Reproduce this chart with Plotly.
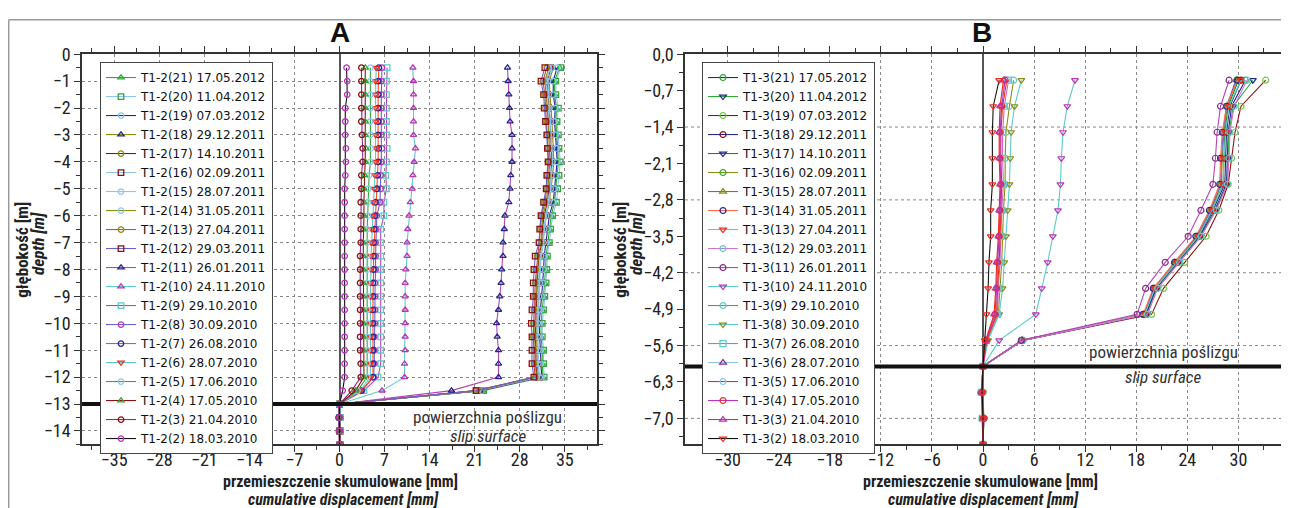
import plotly.graph_objects as go

# the page puts the figure 8 px in from the top-left corner, so screen
# positions measured on the reference are shifted by OFF
OFF = 8
W, H = 1281, 500
SLIP_A = -13.0
SLIP_B = -6.0

# depths of the readings [m]
DEPTH_A = [-0.5, -1.0, -1.5, -2.0, -2.5, -3.0, -3.5, -4.0, -4.5, -5.0, -5.5, -6.0, -6.5, -7.0, -7.5,
           -8.0, -8.5, -9.0, -9.5, -10.0, -10.5, -11.0, -11.5, -12.0, -12.5, -13.0, -13.5, -14.0, -14.5]
DEPTH_B = [-0.5, -1.0, -1.5, -2.0, -2.5, -3.0, -3.5, -4.0, -4.5, -5.0, -5.5, -6.0, -6.5, -7.0, -7.5]

# ---- inclinometer T1-2, cumulative displacement [mm]
A21 = [34.2, 33.4, 33.4, 33.7, 33.6, 33.8, 33.9, 34.0, 33.8, 33.6, 33.4, 32.9, 32.6, 32.4, 32.1, 32.0, 31.9, 31.7, 31.5, 31.3, 31.3, 31.5, 31.5, 31.6, 22.2, 0.0, 0.1, 0.0, 0.1]
A20 = [34.4, 33.6, 33.6, 34.0, 33.8, 34.0, 34.1, 34.3, 34.1, 33.9, 33.7, 33.1, 32.8, 32.6, 32.3, 32.2, 32.1, 31.9, 31.7, 31.5, 31.5, 31.7, 31.7, 31.8, 22.4, 0.0, 0.1, 0.1, 0.0]
A19 = [33.8, 33.2, 33.2, 33.5, 33.4, 33.6, 33.7, 33.8, 33.6, 33.4, 33.2, 32.6, 32.3, 32.1, 31.8, 31.7, 31.6, 31.4, 31.2, 31.0, 31.1, 31.2, 31.2, 31.4, 22.0, 0.0, 0.0, 0.1, 0.0]
A18 = [33.2, 32.6, 32.7, 32.9, 33.0, 33.1, 33.2, 33.3, 33.1, 32.9, 32.6, 32.1, 31.8, 31.6, 31.3, 31.1, 31.0, 30.9, 30.7, 30.6, 30.6, 30.7, 30.7, 30.9, 21.8, 0.0, -0.1, 0.0, 0.0]
A17 = [32.9, 32.3, 32.4, 32.6, 32.7, 32.8, 32.9, 33.0, 32.8, 32.6, 32.3, 31.8, 31.5, 31.4, 31.0, 30.8, 30.7, 30.6, 30.5, 30.4, 30.4, 30.5, 30.5, 30.7, 21.6, 0.0, 0.0, -0.1, 0.0]
A16 = [32.7, 32.1, 32.3, 32.4, 32.6, 32.7, 32.7, 32.8, 32.7, 32.7, 32.4, 32.0, 31.7, 31.7, 31.2, 31.0, 30.9, 30.9, 30.7, 30.7, 30.7, 30.8, 30.8, 31.0, 21.3, 0.0, 0.0, 0.0, 0.1]
A15 = [33.0, 32.4, 32.5, 32.6, 32.8, 32.9, 33.0, 33.1, 32.9, 32.8, 32.5, 32.1, 31.8, 31.7, 31.3, 31.2, 31.1, 31.0, 30.9, 30.8, 30.8, 30.9, 30.9, 31.1, 21.5, 0.0, 0.1, 0.0, 0.0]
A14 = [32.5, 31.9, 32.1, 32.3, 32.4, 32.5, 32.6, 32.7, 32.5, 32.4, 32.1, 31.6, 31.4, 31.3, 30.9, 30.7, 30.6, 30.5, 30.4, 30.3, 30.3, 30.4, 30.4, 30.6, 21.4, 0.0, 0.0, 0.0, 0.0]
A13 = [32.2, 31.6, 31.9, 32.0, 32.2, 32.3, 32.4, 32.5, 32.3, 32.2, 31.9, 31.4, 31.2, 31.0, 30.7, 30.5, 30.4, 30.3, 30.2, 30.1, 30.1, 30.2, 30.2, 30.4, 21.2, 0.0, -0.1, 0.0, 0.0]
A12 = [31.9, 31.3, 31.7, 31.8, 32.0, 32.2, 32.3, 32.4, 32.2, 32.1, 31.7, 31.3, 31.1, 31.0, 30.4, 30.2, 30.1, 30.1, 29.9, 29.8, 29.9, 29.9, 29.9, 30.2, 21.2, 0.0, 0.0, 0.1, 0.0]
A11 = [26.1, 26.2, 26.3, 26.4, 26.5, 26.8, 26.8, 26.8, 26.6, 26.5, 26.3, 25.7, 25.6, 25.4, 25.4, 25.2, 25.1, 24.9, 24.7, 24.4, 24.5, 24.7, 24.7, 24.7, 17.4, 0.0, 0.0, 0.0, 0.0]
A10 = [11.4, 11.5, 11.5, 11.5, 11.5, 11.5, 11.8, 11.6, 11.4, 11.3, 11.0, 10.8, 10.6, 10.5, 10.5, 10.3, 10.2, 10.2, 10.2, 10.2, 10.2, 10.2, 10.1, 10.1, 6.6, 0.0, 0.1, 0.0, 0.0]
A9 = [7.4, 7.3, 7.3, 7.3, 7.3, 7.3, 7.4, 7.3, 7.2, 7.3, 6.9, 6.9, 6.4, 6.4, 6.4, 6.4, 6.4, 6.4, 6.4, 6.4, 6.4, 6.4, 6.4, 6.0, 3.8, 0.0, 0.0, 0.1, 0.0]
A8 = [6.6, 6.5, 6.5, 6.5, 6.5, 6.5, 6.6, 6.5, 6.4, 6.4, 6.3, 5.8, 5.7, 5.6, 5.6, 5.6, 5.5, 5.5, 5.5, 5.5, 5.4, 5.4, 5.4, 5.3, 3.5, 0.0, -0.1, 0.0, 0.0]
A7 = [6.1, 6.0, 6.0, 6.0, 6.0, 6.0, 6.1, 6.0, 5.9, 5.8, 5.6, 5.5, 5.4, 5.3, 5.3, 5.3, 5.2, 5.2, 5.2, 5.2, 5.2, 5.2, 5.2, 5.2, 3.4, 0.0, 0.0, 0.0, 0.1]
A6 = [5.7, 5.6, 5.6, 5.6, 5.6, 5.6, 5.7, 5.6, 5.5, 5.4, 5.2, 5.1, 5.0, 4.9, 4.9, 4.9, 4.8, 4.8, 4.8, 4.8, 4.8, 4.8, 4.8, 4.8, 3.2, 0.0, 0.1, 0.0, 0.0]
A5 = [4.8, 4.8, 4.8, 4.8, 4.8, 4.8, 4.9, 4.8, 4.6, 4.5, 4.4, 4.4, 4.3, 4.3, 4.3, 4.3, 4.3, 4.3, 4.3, 4.3, 4.3, 4.3, 4.3, 4.3, 2.8, 0.0, 0.0, 0.0, 0.0]
A4 = [4.0, 4.0, 4.0, 4.0, 4.0, 4.0, 4.1, 4.0, 3.9, 3.8, 3.8, 3.8, 3.7, 3.7, 3.7, 3.7, 3.7, 3.7, 3.7, 3.7, 3.7, 3.7, 3.7, 3.8, 2.5, 0.0, 0.0, 0.1, 0.0]
A3 = [3.4, 3.4, 3.4, 3.4, 3.4, 3.5, 3.6, 3.6, 3.4, 3.4, 3.3, 3.3, 3.3, 3.3, 3.2, 3.2, 3.2, 3.2, 3.2, 3.2, 3.2, 3.2, 3.3, 3.3, 1.9, 0.0, -0.1, 0.0, 0.0]
A2 = [1.1, 1.2, 1.2, 0.9, 0.9, 0.9, 1.0, 1.0, 0.9, 0.8, 0.8, 0.8, 0.8, 0.8, 0.8, 0.8, 0.8, 0.8, 0.8, 0.8, 0.8, 0.8, 0.8, 0.8, 0.5, 0.0, 0.0, 0.0, 0.0]

# ---- inclinometer T1-3, cumulative displacement [mm]
B21 = [30.8, 29.2, 28.8, 28.7, 28.6, 27.2, 25.5, 22.9, 20.4, 19.2, 4.6, 0.0, -0.1, 0.0, 0.0]
B20 = [31.7, 29.4, 28.9, 28.8, 28.7, 27.3, 25.6, 23.0, 20.5, 19.3, 4.7, 0.0, -0.1, 0.0, 0.0]
B19 = [33.2, 30.3, 29.6, 29.2, 28.8, 27.7, 26.2, 23.7, 21.2, 19.8, 4.7, 0.0, -0.1, 0.1, 0.0]
B18 = [30.3, 29.0, 28.6, 28.5, 28.4, 27.0, 25.4, 22.8, 20.3, 19.1, 4.6, 0.0, -0.2, 0.0, 0.0]
B17 = [30.0, 28.8, 28.4, 28.3, 28.2, 26.9, 25.3, 22.7, 20.2, 19.0, 4.6, 0.0, -0.1, 0.0, 0.0]
B16 = [29.8, 28.7, 28.3, 28.1, 28.0, 26.8, 25.2, 22.6, 20.1, 18.9, 4.6, 0.0, 0.0, 0.1, 0.0]
B15 = [29.7, 28.6, 28.2, 28.0, 27.9, 26.7, 25.1, 22.5, 20.1, 18.9, 4.5, 0.0, -0.1, 0.0, 0.0]
B14 = [29.9, 28.6, 28.1, 27.9, 27.8, 26.6, 25.0, 22.5, 20.0, 18.8, 4.6, 0.0, -0.2, 0.0, 0.0]
B13 = [30.3, 28.9, 28.5, 28.3, 28.2, 26.9, 25.3, 22.8, 20.2, 19.0, 4.6, 0.0, -0.1, 0.0, 0.0]
B12 = [31.0, 29.5, 29.0, 28.9, 28.7, 27.4, 25.6, 23.1, 20.5, 19.3, 4.7, 0.0, -0.2, -0.1, 0.0]
B11 = [28.9, 27.9, 27.5, 27.3, 27.0, 25.6, 24.1, 21.4, 19.1, 18.1, 4.5, 0.0, -0.2, 0.0, 0.0]
B10 = [10.8, 9.9, 9.4, 9.2, 9.1, 8.8, 8.2, 7.6, 6.9, 6.2, 1.9, 0.0, -0.1, 0.1, 0.0]
B9 = [3.6, 3.1, 2.7, 2.6, 2.6, 2.4, 2.3, 2.2, 2.0, 1.8, 0.5, 0.0, -0.1, 0.0, 0.0]
B8 = [4.5, 3.7, 3.3, 3.2, 3.1, 2.9, 2.7, 2.5, 2.3, 1.9, 0.6, 0.0, 0.0, 0.0, 0.0]
B7 = [3.0, 2.5, 2.3, 2.3, 2.4, 2.2, 2.1, 2.0, 1.8, 1.7, 0.4, 0.0, -0.2, -0.1, 0.0]
B6 = [2.5, 2.1, 2.0, 2.0, 2.1, 2.0, 1.9, 1.8, 1.6, 1.5, 0.3, 0.0, -0.1, 0.0, 0.0]
B5 = [2.8, 2.3, 2.1, 2.1, 2.2, 2.1, 2.0, 1.9, 1.7, 1.6, 0.4, 0.0, 0.0, 0.0, 0.0]
B4 = [2.6, 2.2, 2.0, 2.0, 2.1, 2.0, 1.9, 1.7, 1.6, 1.4, 0.4, 0.0, -0.1, 0.1, 0.0]
B3 = [2.4, 2.0, 1.9, 1.9, 2.0, 1.9, 1.8, 1.6, 1.5, 1.3, 0.3, 0.0, -0.2, 0.0, 0.0]
B2 = [1.9, 1.2, 1.1, 1.1, 1.1, 0.9, 0.9, 0.7, 0.6, 0.4, 0.2, 0.0, -0.1, 0.0, 0.0]

DATES = ["17.05.2012", "11.04.2012", "07.03.2012", "29.12.2011", "14.10.2011", "02.09.2011",
         "28.07.2011", "31.05.2011", "27.04.2011", "29.03.2011", "26.01.2011", "24.11.2010",
         "29.10.2010", "30.09.2010", "26.08.2010", "28.07.2010", "17.06.2010", "17.05.2010",
         "21.04.2010", "18.03.2010"]
NUMS = [21, 20, 19, 18, 17, 16, 15, 14, 13, 12, 11, 10, 9, 8, 7, 6, 5, 4, 3, 2]

SERIES_A = [A21, A20, A19, A18, A17, A16, A15, A14, A13, A12, A11, A10, A9, A8, A7, A6, A5, A4, A3, A2]
SERIES_B = [B21, B20, B19, B18, B17, B16, B15, B14, B13, B12, B11, B10, B9, B8, B7, B6, B5, B4, B3, B2]

# colours
GRN, LBL, NAV, OLV, DRD = "#2fa83a", "#8cc6ec", "#262690", "#8c8c10", "#8e1010"
CYN, IRD, SLB, ORC, ORG = "#5cc9cc", "#c24b4b", "#6a62cc", "#b545b5", "#ff4a22"
RED, BLK, PUR, MAG, LGR = "#ee2a1a", "#111111", "#8a2a8a", "#bb33bb", "#6ccc44"

# (line colour, marker colour, marker symbol)
STYLE_A = [(GRN, GRN, "triangle-up"), (LBL, GRN, "square"), (NAV, LBL, "circle"),
           (OLV, NAV, "triangle-up"), (DRD, OLV, "circle"), (LBL, DRD, "square"),
           (LBL, LBL, "circle"), (OLV, LBL, "circle"), (IRD, OLV, "circle"),
           (SLB, DRD, "square"), (ORC, NAV, "triangle-up"), (CYN, MAG, "triangle-up"),
           (ORC, CYN, "square"), (SLB, MAG, "circle"), (ORG, NAV, "circle"),
           (CYN, RED, "triangle-down"), (GRN, LBL, "circle"), (DRD, GRN, "triangle-up"),
           (PUR, DRD, "circle"), (BLK, MAG, "circle")]
STYLE_B = [(NAV, GRN, "circle"), (GRN, NAV, "triangle-down"), (DRD, LGR, "circle"),
           (NAV, DRD, "circle"), ("#1e8a2a", NAV, "triangle-down"), (OLV, GRN, "circle"),
           (SLB, OLV, "triangle-up"), ("#ff6a4a", NAV, "circle"), (CYN, RED, "triangle-down"),
           ("#cc77cc", CYN, "circle"), (ORC, PUR, "circle"), (CYN, MAG, "triangle-down"),
           (OLV, CYN, "circle"), (CYN, OLV, "triangle-down"), ("#cc66cc", CYN, "square"),
           (LBL, PUR, "triangle-up"), (RED, LBL, "circle"), (MAG, RED, "circle"),
           (RED, MAG, "triangle-up"), (BLK, RED, "triangle-down")]

NARROW = "Liberation Sans Narrow, Arial Narrow, Roboto Condensed, sans-serif"


def fx(px):  # screen x -> paper
    return (px - OFF) / W


def fy(py):  # screen y -> paper
    return 1 - (py - OFF) / H


fig = go.Figure()

for num, date, vals, (lc, mc, sym) in zip(NUMS, DATES, SERIES_A, STYLE_A):
    fig.add_trace(go.Scatter(
        x=vals, y=DEPTH_A, mode="lines+markers", name=f"T1-2({num}) {date}",
        line=dict(color=lc, width=1.1),
        marker=dict(symbol=sym + "-open", color=mc, size=5.5, line=dict(color=mc, width=1.3)),
        xaxis="x", yaxis="y", legend="legend"))

for num, date, vals, (lc, mc, sym) in zip(NUMS, DATES, SERIES_B, STYLE_B):
    fig.add_trace(go.Scatter(
        x=vals, y=DEPTH_B, mode="lines+markers", name=f"T1-3({num}) {date}",
        line=dict(color=lc, width=1.1),
        marker=dict(symbol=sym + "-open", color=mc, size=6, line=dict(color=mc, width=1.2)),
        xaxis="x2", yaxis="y2", legend="legend2"))

tickfont = dict(family=NARROW, size=18, color="#222")
common = dict(showline=True, linecolor="#333", linewidth=1.5, mirror="ticks",
              ticks="outside", ticklen=6, tickcolor="#333", tickwidth=1.2,
              tickfont=tickfont, gridcolor="#888", griddash="dot", gridwidth=1)

ydom = [fy(443), fy(44)]
fig.update_layout(
    xaxis=dict(domain=[fx(82), fx(597)], anchor="y", range=[-40, 40], tick0=0, dtick=7,
               showgrid=True, zeroline=True, zerolinecolor="#555", zerolinewidth=2,
               ticklabelstandoff=-8,
               minor=dict(dtick=3.5, ticklen=4, tickcolor="#333", ticks="outside", showgrid=False),
               **common),
    yaxis=dict(domain=ydom, anchor="x", range=[-14.5, 0], tick0=0, dtick=1,
               showgrid=True, zeroline=False,
               minor=dict(dtick=0.5, ticklen=4, tickcolor="#333", ticks="outside", showgrid=False),
               **common),
    xaxis2=dict(domain=[fx(685), fx(1281)], anchor="y2", range=[-35, 35], tick0=0, dtick=6,
                showgrid=True, zeroline=True, zerolinecolor="#555", zerolinewidth=2,
                ticklabelstandoff=-8,
                minor=dict(dtick=3, ticklen=4, tickcolor="#333", ticks="outside", showgrid=False),
                **common),
    yaxis2=dict(domain=ydom, anchor="x2", range=[-7.5, 0], tick0=0, dtick=0.7, tickformat=".1f",
                showgrid=False, zeroline=False,
                minor=dict(dtick=0.35, ticklen=4, tickcolor="#333", ticks="outside", showgrid=False),
                **common),
)

legend_style = dict(bgcolor="white", bordercolor="#444", borderwidth=1, itemwidth=30,
                    font=dict(family="DejaVu Sans", size=12, color="#111"),
                    xanchor="left", yanchor="top", tracegroupgap=0)
fig.update_layout(
    legend=dict(x=fx(100), y=fy(52), **legend_style),
    legend2=dict(x=fx(702), y=fy(52), **legend_style),
)

shapes = []
# horizontal grid of panel B (every 1.4 m)
for gy in [-1.4, -2.8, -4.2, -5.6, -7.0]:
    shapes.append(dict(type="line", xref="x2 domain", yref="y2", x0=0, x1=1, y0=gy, y1=gy,
                       line=dict(color="#888", width=1, dash="dot"), layer="below"))
# slip surfaces
shapes.append(dict(type="line", xref="x domain", yref="y", x0=0, x1=1, y0=SLIP_A, y1=SLIP_A,
                   line=dict(color="#111", width=4), layer="above"))
shapes.append(dict(type="line", xref="x2 domain", yref="y2", x0=0, x1=1, y0=SLIP_B, y1=SLIP_B,
                   line=dict(color="#111", width=4), layer="above"))
# outer frame
bx0, bx1, by = fx(8.7), fx(1283), fy(8.7)
for x0, y0, x1, y1 in [(bx0, 0, bx0, by), (bx0, by, bx1, by), (bx1, by, bx1, 0)]:
    shapes.append(dict(type="line", xref="paper", yref="paper", x0=x0, y0=y0, x1=x1, y1=y1,
                       line=dict(color="#999", width=1.5)))
fig.update_layout(shapes=shapes)


def ann(text, px, py, size=18, angle=0, color="#222", family=NARROW):
    return dict(text=text, x=fx(px), y=fy(py), xref="paper", yref="paper",
                showarrow=False, textangle=angle, xanchor="center", yanchor="middle",
                font=dict(family=family, size=size, color=color))


annotations = [
    ann("<b>A</b>", 340, 22, size=28, color="#111", family="Liberation Sans, Arial, sans-serif"),
    ann("<b>B</b>", 982, 22, size=28, color="#111", family="Liberation Sans, Arial, sans-serif"),
    ann("<b>przemieszczenie skumulowane [mm]</b>", 340, 481, size=16),
    ann("<b><i>cumulative displacement [mm]</i></b>", 343, 499, size=16),
    ann("<b>przemieszczenie skumulowane [mm]</b>", 981, 481, size=16),
    ann("<b><i>cumulative displacement [mm]</i></b>", 983, 499, size=16),
    ann("<b>głębokość [m]</b>", 22, 244, size=17, angle=-90),
    ann("<b><i>depth [m]</i></b>", 38, 238, size=17, angle=-90),
    ann("<b>głębokość [m]</b>", 620, 244, size=17, angle=-90),
    ann("<b><i>depth [m]</i></b>", 636, 238, size=17, angle=-90),
    ann("powierzchnia poślizgu", 487, 415, size=17, color="#333"),
    ann("<i>slip surface</i>", 488, 434, size=17, color="#333"),
    ann("powierzchnia poślizgu", 1163, 349, size=17, color="#333"),
    ann("<i>slip surface</i>", 1163, 374, size=17, color="#333"),
]

fig.update_layout(
    annotations=annotations,
    width=W, height=H,
    margin=dict(l=0, r=0, t=0, b=0),
    paper_bgcolor="white", plot_bgcolor="white",
    separators=", ",
    showlegend=True,
)

fig.write_html("out.html")
